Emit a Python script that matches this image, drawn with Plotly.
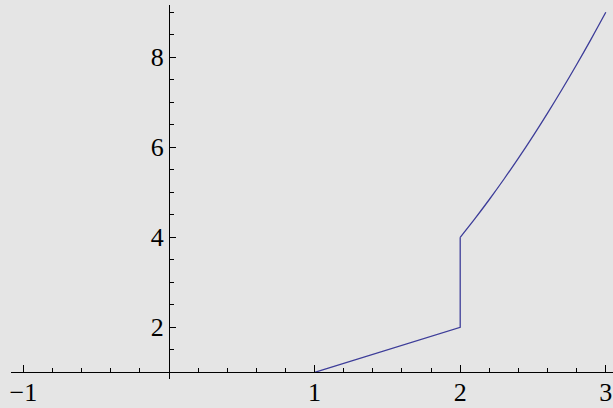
import plotly.graph_objects as go

# Data (piecewise curve)
seg_x = [1.0, 2.0, 2.0]
seg_y = [1.0, 2.0, 4.0]
curve_x = [2.0, 2.1, 2.2, 2.3, 2.4, 2.5, 2.6, 2.7, 2.8, 2.9, 3.0]
curve_y = [4.0, 4.41, 4.84, 5.29, 5.76, 6.25, 6.76, 7.29, 7.84, 8.41, 9.0]

x_tickvals = [-1, 0, 1, 2, 3]
x_ticktext = ["\u22121", "", "1", "2", "3"]
y_tickvals = [2, 4, 6, 8]
y_ticktext = ["2", "4", "6", "8"]

W, H = 613, 408
BG = "#e5e5e5"
FONT = "Liberation Serif, Times New Roman, serif"
LINE = dict(color="#3d3d99", width=1.3)

fig = go.Figure()
fig.add_trace(go.Scatter(x=seg_x, y=seg_y, mode="lines", line=LINE,
                         hoverinfo="skip", showlegend=False, cliponaxis=False))
fig.add_trace(go.Scatter(x=curve_x, y=curve_y, mode="lines",
                         line=dict(LINE, shape="spline", smoothing=1.0),
                         hoverinfo="skip", showlegend=False, cliponaxis=False))

# pixel geometry
x0_px, unit_x = 169.0, 145.6
left_px = 10.7
xr = [(left_px - x0_px) / unit_x, (W - x0_px) / unit_x]

y1_px, unit_y = 372.3, 45.0
ytop_px, ybot_px = 4.7, 379.3
yr = [1 + (y1_px - ybot_px) / unit_y, 1 + (y1_px - ytop_px) / unit_y]

fig.update_layout(
    width=W, height=H,
    margin=dict(l=0, r=0, t=0, b=0, autoexpand=False),
    paper_bgcolor=BG, plot_bgcolor=BG,
    font=dict(family=FONT, size=26, color="black"),
    xaxis=dict(
        domain=[left_px / W, 1], range=xr, automargin=False,
        anchor="free", position=(H - y1_px) / H,
        showline=True, linecolor="black", linewidth=1,
        showgrid=False, zeroline=False,
        tickmode="array", tickvals=x_tickvals, ticktext=x_ticktext,
        ticks="inside", ticklen=7, tickwidth=1, tickcolor="black",
        ticklabelstandoff=-4,
        minor=dict(tick0=0, dtick=0.2, ticks="inside", ticklen=4,
                   tickwidth=1, tickcolor="black", showgrid=False),
        fixedrange=True,
    ),
    yaxis=dict(
        domain=[(H - ybot_px) / H, (H - ytop_px) / H], range=yr, automargin=False,
        anchor="free", position=(x0_px) / W,
        showline=True, linecolor="black", linewidth=1,
        showgrid=False, zeroline=False,
        tickmode="array", tickvals=y_tickvals, ticktext=y_ticktext,
        ticks="inside", ticklen=6, tickwidth=1, tickcolor="black",
        minor=dict(tick0=0, dtick=0.5, ticks="inside", ticklen=4,
                   tickwidth=1, tickcolor="black", showgrid=False),
        fixedrange=True,
    ),
)

fig.write_html("out.html", config={"displayModeBar": False},
               post_script="document.body.style.margin='0';document.body.style.overflow='hidden';")
